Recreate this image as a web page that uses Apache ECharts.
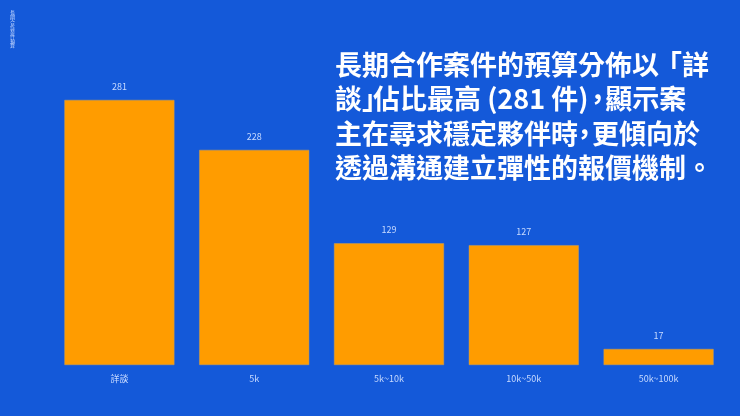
<!DOCTYPE html>
<html><head><meta charset="utf-8">
<script src="https://cdn.jsdelivr.net/npm/echarts@6/dist/echarts.min.js"></script>
<style>html,body{margin:0;padding:0;background:#1459d9;}#c{width:740px;height:416px;}</style>
</head><body><div id="c"></div>
<script>
const categories = ['詳談', '5k', '5k~10k', '10k~50k', '50k~100k'];
const counts = [281, 228, 129, 127, 17];
const sideTitle = '長期合作案件預算';
const headlineLines = [
  '長期合作案件的預算分佈以「詳',
  '談」佔比最高 (281 件)，顯示案',
  '主在尋求穩定夥伴時，更傾向於',
  '透過溝通建立彈性的報價機制。'
];
const font = '"Noto Sans CJK TC", "Noto Sans", sans-serif';
const FS = 27;
// proportional punctuation handled with fixed-width rich tokens
function richLine(line) {
  let out = '';
  let run = '';
  const flush = () => { if (run) { out += '{n|' + run + '}'; run = ''; } };
  const chars = Array.from(line);
  for (let i = 0; i < chars.length; i++) {
    const c = chars[i];
    const next = chars[i + 1];
    if (next === '「') { flush(); out += '{s|' + c + '}'; continue; }
    if (next === '，') {
      flush();
      out += (c.charCodeAt(0) < 128 ? '{cp|' : '{c|') + c + '}';
      continue;
    }
    if (c === '」') { flush(); out += '{q|' + c + '}'; continue; }
    if (c === '，') { flush(); out += '{h|' + c + '}'; continue; }
    run += c;
  }
  flush();
  return out;
}
const base = { fontSize: FS, fontWeight: 'bold', fontFamily: font, color: '#ffffff', lineHeight: 34.5 };
const chart = echarts.init(document.getElementById('c'));
chart.setOption({
  backgroundColor: '#1459d9',
  animation: false,
  grid: { left: 52, right: 14, top: 82, bottom: 51 },
  xAxis: {
    type: 'category', data: categories,
    axisLine: { show: false }, axisTick: { show: false },
    axisLabel: { color: '#c9dbff', fontSize: 9, fontFamily: font, margin: 9 }
  },
  yAxis: {
    type: 'value', min: 0, max: 300,
    show: false, splitLine: { show: false }
  },
  series: [{
    type: 'bar', data: counts, barWidth: 110,
    itemStyle: { color: '#ff9c00', borderColor: '#c9a05a', borderWidth: 0.5 },
    label: { show: true, position: 'top', distance: 9, color: '#c9dbff', fontSize: 9, fontFamily: font }
  }],
  graphic: [
    {
      type: 'text', left: 10, top: 10,
      style: { text: sideTitle.split('').join('\n'), fill: '#c9dbff', font: '5px ' + font, lineHeight: 4.7 }
    },
    {
      type: 'text', left: 335, top: 47,
      style: {
        text: headlineLines.map(richLine).join('\n'),
        fill: '#ffffff', font: 'bold ' + FS + 'px ' + font, lineHeight: 34.5,
        rich: {
          n: Object.assign({}, base),
          s: Object.assign({}, base, { width: FS - 4 }),
          c: Object.assign({}, base, { width: FS - 7 }),
          cp: Object.assign({}, base, { width: 6 }),
          q: Object.assign({}, base, { width: 11 }),
          h: Object.assign({}, base, { width: 21 })
        }
      }
    }
  ]
});
</script></body></html>
